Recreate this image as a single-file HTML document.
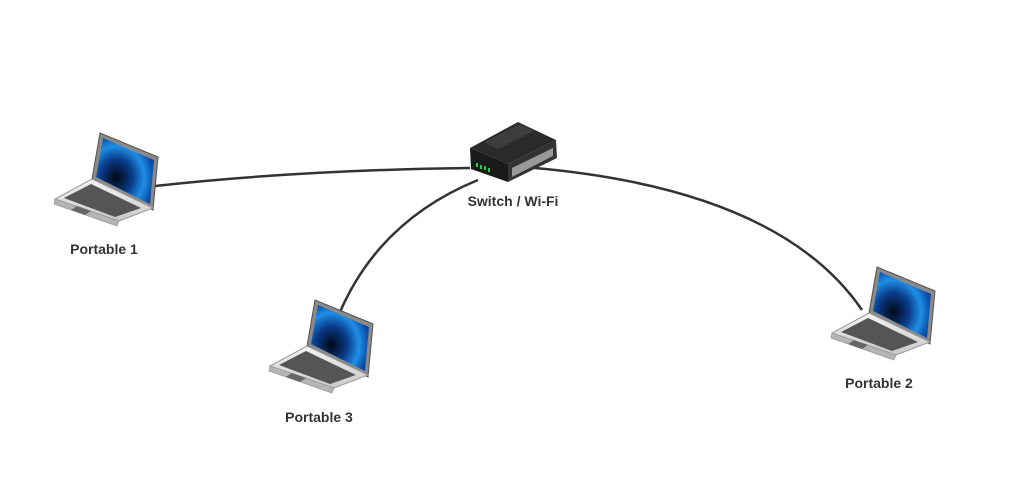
<!DOCTYPE html>
<html><head><meta charset="utf-8"><style>
html,body{margin:0;padding:0;background:#fff;width:1023px;height:485px;overflow:hidden}
svg{display:block}
text{font-family:"Liberation Sans",sans-serif;font-weight:bold;font-size:14px;fill:#333}
</style></head><body>
<svg width="1023" height="485" viewBox="0 0 1023 485">
<defs>
<radialGradient id="scr" cx="0.35" cy="0.6" r="0.8">
<stop offset="0" stop-color="#000814"/><stop offset="0.35" stop-color="#0a3c8a"/><stop offset="0.6" stop-color="#1e8ee6"/><stop offset="0.8" stop-color="#0b4ea8"/><stop offset="1" stop-color="#0a2f70"/>
</radialGradient>
<linearGradient id="base" x1="0" y1="0" x2="0" y2="1"><stop offset="0" stop-color="#f4f4f4"/><stop offset="1" stop-color="#c8c8c8"/></linearGradient>
<g id="lap">
<polygon points="47,0 105,24 100,77 39,46" fill="#8a8a8a" stroke="#555" stroke-width="1"/>
<polygon points="50,5 101,27 97,71 43,44" fill="url(#scr)"/>
<polygon points="39,46 100,75 66,88 2,66" fill="url(#base)" stroke="#999" stroke-width="1"/>
<polygon points="2,66 66,88 64,93 1,71" fill="#b5b5b5" stroke="#999" stroke-width="0.8"/>
<polygon points="38,51 88,75 62,84 11,65" fill="#555"/>
<polygon points="24,73 38,78 32,82 18,77" fill="#666"/>
</g>
</defs>
<path d="M155,186 Q300,170 470,168" fill="none" stroke="#333" stroke-width="2.5"/>
<path d="M535,168 Q780,190 862,310" fill="none" stroke="#333" stroke-width="2.5"/>
<path d="M478,180 Q380,220 340,312" fill="none" stroke="#333" stroke-width="2.5"/>
<use href="#lap" x="53" y="133"/>
<use href="#lap" x="268" y="300"/>
<use href="#lap" x="830" y="267"/>
<g>
<polygon points="470,148 518,122 556,140 508,164" fill="#2a2a2a"/>
<polygon points="484,142 520,124 534,131 498,149" fill="#3d3d3d"/>
<polygon points="470,148 508,164 508,182 471,169" fill="#1a1a1a"/>
<polygon points="508,164 556,140 557,158 508,182" fill="#333"/>
<polygon points="512,168 553,148 553,156 512,177" fill="#999"/>
<g fill="#2ecc40"><rect x="476" y="163" width="2" height="4"/><rect x="480" y="165" width="2" height="4"/><rect x="484" y="166" width="2" height="4"/><rect x="488" y="168" width="2" height="4"/></g>
</g>
<text x="513" y="206" text-anchor="middle">Switch / Wi-Fi</text>
<text x="104" y="254" text-anchor="middle">Portable 1</text>
<text x="319" y="422" text-anchor="middle">Portable 3</text>
<text x="879" y="388" text-anchor="middle">Portable 2</text>
</svg>
</body></html>
